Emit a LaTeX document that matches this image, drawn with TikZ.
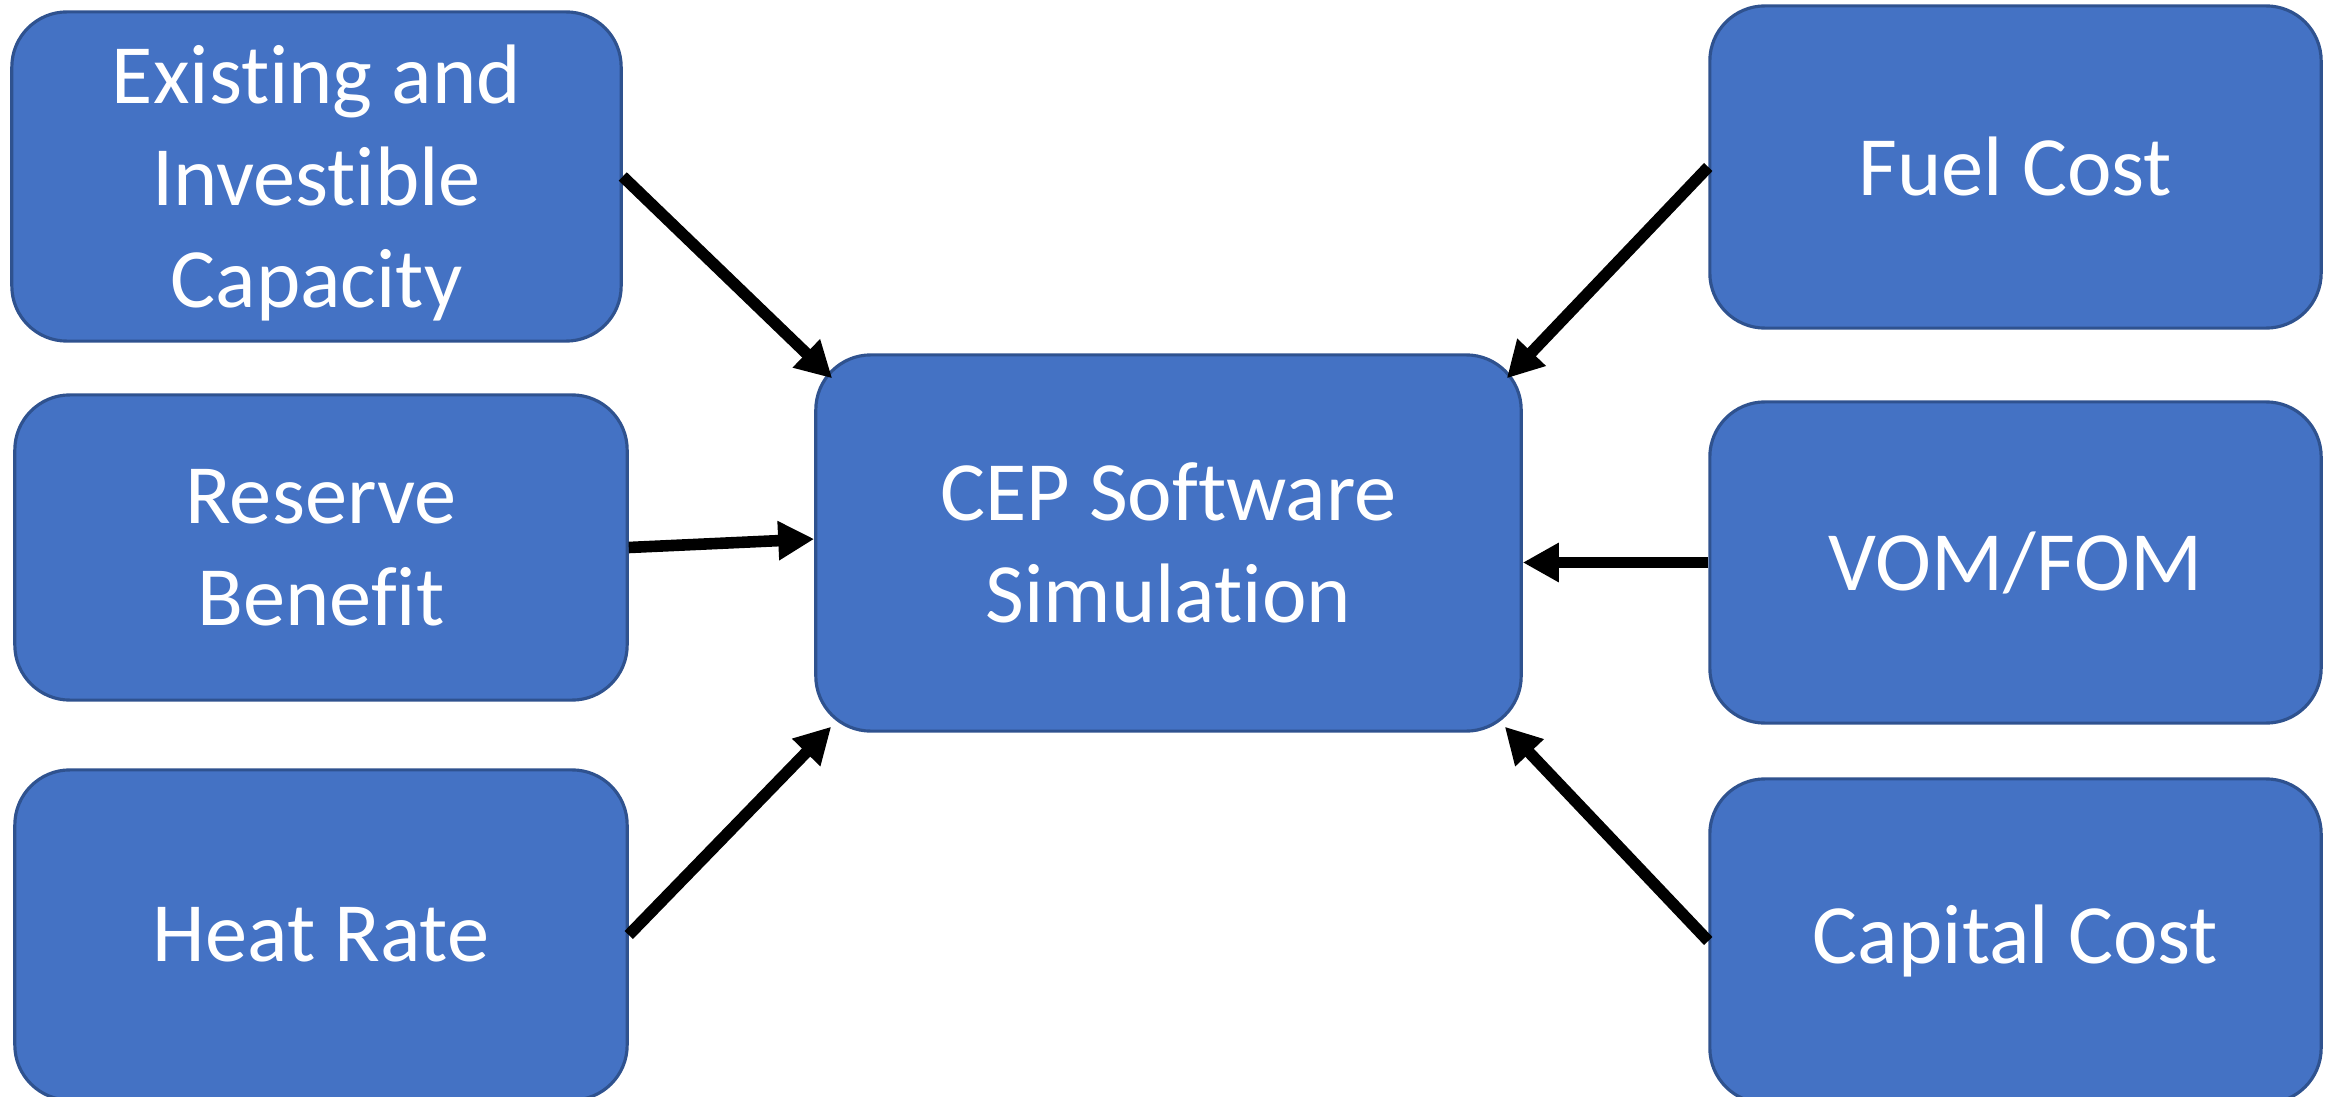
\documentclass[tikz,border=0pt]{standalone}
\usepackage{fontspec}
\setmainfont{Carlito}[Ligatures={NoCommon}]
\usetikzlibrary{arrows.meta,calc}
\definecolor{boxfill}{HTML}{4472C4}
\definecolor{boxline}{HTML}{2F528F}
\begin{document}
\begin{tikzpicture}[x=0.01cm,y=-0.01cm,
  box/.style={draw=boxline, line width=0.9pt, fill=boxfill, rounded corners=0.55cm,
    text=white, align=center, inner sep=0pt,
    font=\fontsize{24}{29}\selectfont},
  conn/.style={line width=3.3pt, -{Triangle[length=0.36cm,width=0.37cm]}}]
\useasboundingbox (0,0) rectangle (2336,1097);
\node[box, minimum width=6.09cm, minimum height=3.29cm] (a) at (316.5,176.5) {\rule{0pt}{20.5pt}Existing and\\Investible\\Capacity};
\node[box, minimum width=6.12cm, minimum height=3.05cm] (r) at (321,547.5) {Reserve\\Benefit};
\node[box, minimum width=6.12cm, minimum height=3.30cm] (h) at (321,935) {Heat Rate};
\node[box, minimum width=7.05cm, minimum height=3.76cm] (c) at (1168.5,543) {CEP Software\\Simulation};
\node[box, minimum width=6.11cm, minimum height=3.22cm] (f) at (2015.5,167) {Fuel Cost};
\node[box, minimum width=6.11cm, minimum height=3.21cm] (v) at (2015.5,562.5) {VOM/FOM};
\node[box, minimum width=6.11cm, minimum height=3.24cm] (k) at (2015.5,941) {Capital Cost};
\draw[conn] (a.east) -- ($(c.north west)+(18,25)$);
\draw[conn] (r.east) -- ($(c.west)+(0,-4)$);
\draw[conn] (h.east) -- ($(c.south west)+(17,-6)$);
\draw[conn] (f.west) -- ($(c.north east)+(-16,25)$);
\draw[conn] (v.west) -- (v.west -| c.east);
\draw[conn] (k.west) -- ($(c.south east)+(-18,-6)$);
\end{tikzpicture}
\end{document}
